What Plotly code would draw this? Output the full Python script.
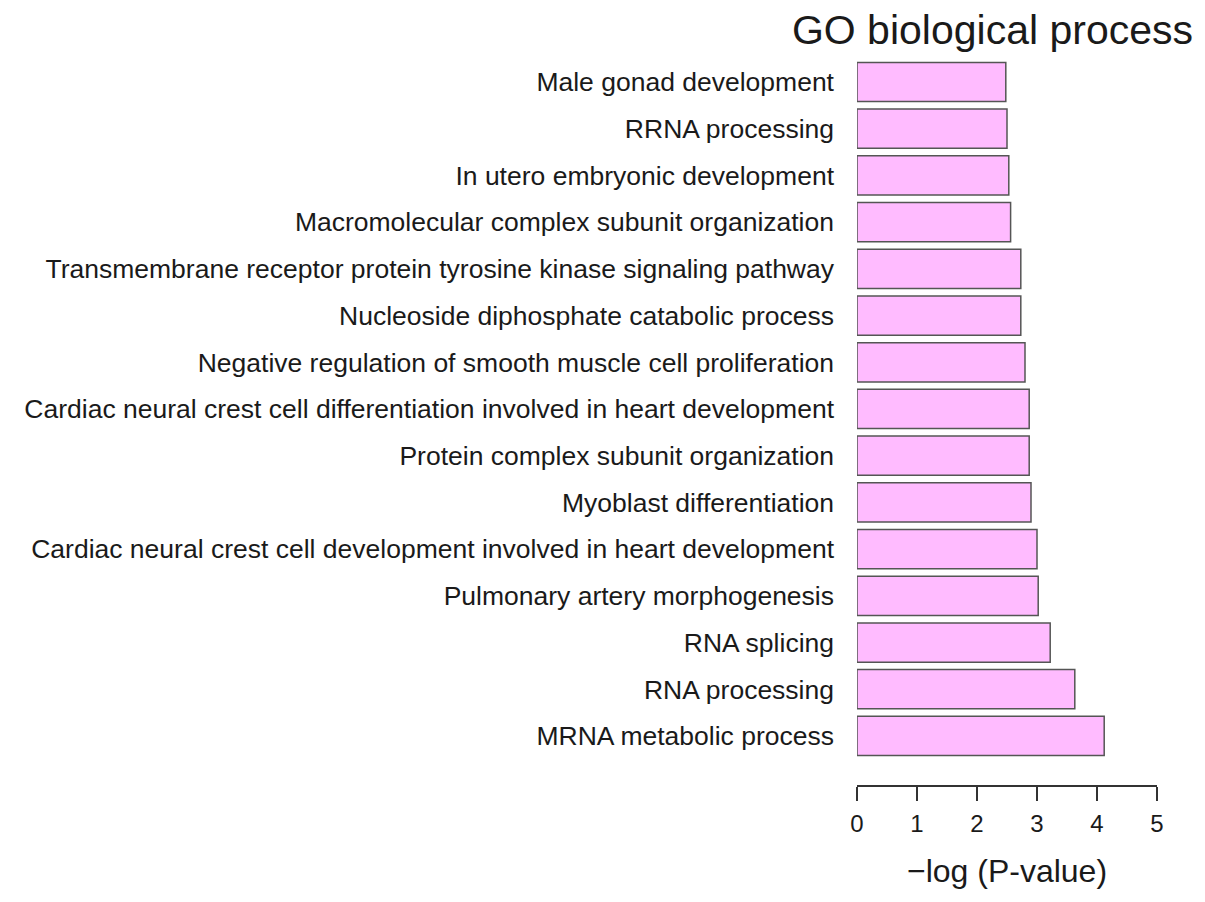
import plotly.graph_objects as go

# GO terms, bottom to top as drawn
terms = [
    "MRNA metabolic process",
    "RNA processing",
    "RNA splicing",
    "Pulmonary artery morphogenesis",
    "Cardiac neural crest cell development involved in heart development",
    "Myoblast differentiation",
    "Protein complex subunit organization",
    "Cardiac neural crest cell differentiation involved in heart development",
    "Negative regulation of smooth muscle cell proliferation",
    "Nucleoside diphosphate catabolic process",
    "Transmembrane receptor protein tyrosine kinase signaling pathway",
    "Macromolecular complex subunit organization",
    "In utero embryonic development",
    "RRNA processing",
    "Male gonad development",
]
neg_log_p = [4.12, 3.63, 3.22, 3.02, 3.0, 2.9, 2.87, 2.87, 2.8, 2.73, 2.73, 2.56, 2.53, 2.5, 2.48]

x_ticks = [0, 1, 2, 3, 4, 5]

font = "Liberation Sans, Arial, sans-serif"

fig = go.Figure()
fig.add_trace(go.Bar(
    x=neg_log_p,
    y=terms,
    orientation="h",
    width=0.84,
    marker=dict(color="#FFBBFF", line=dict(color="#555555", width=1.5)),
    hoverinfo="x+y",
))

# page body adds 8px margin, so figure is 8px smaller than the window
fig.update_layout(
    width=1197, height=894,
    margin=dict(l=849, r=48, t=42, b=117),
    paper_bgcolor="white", plot_bgcolor="white",
    showlegend=False,
    font=dict(family=font, color="#1a1a1a"),
    title=dict(
        text="GO biological process", font=dict(size=41, color="#1a1a1a"),
        xref="container", x=0.99, xanchor="right",
        yref="container", y=0.976, yanchor="middle",
    ),
    xaxis=dict(
        range=[0, 5], tickvals=x_ticks, showgrid=False, zeroline=False,
        showline=True, linecolor="#333333", linewidth=1.5,
        ticks="outside", ticklen=14, tickwidth=1.5, tickcolor="#333333",
        tickfont=dict(size=24), ticklabelstandoff=2,
        title=dict(text="\u2212log (P-value)", font=dict(size=32), standoff=24),
    ),
    yaxis=dict(
        type="category", categoryorder="array", categoryarray=terms,
        range=[-1.05, 14.685], showgrid=False, zeroline=False,
        showline=False, ticks="", tickfont=dict(size=26.5),
        ticklabelstandoff=22,
    ),
)

fig.write_html("out.html")
